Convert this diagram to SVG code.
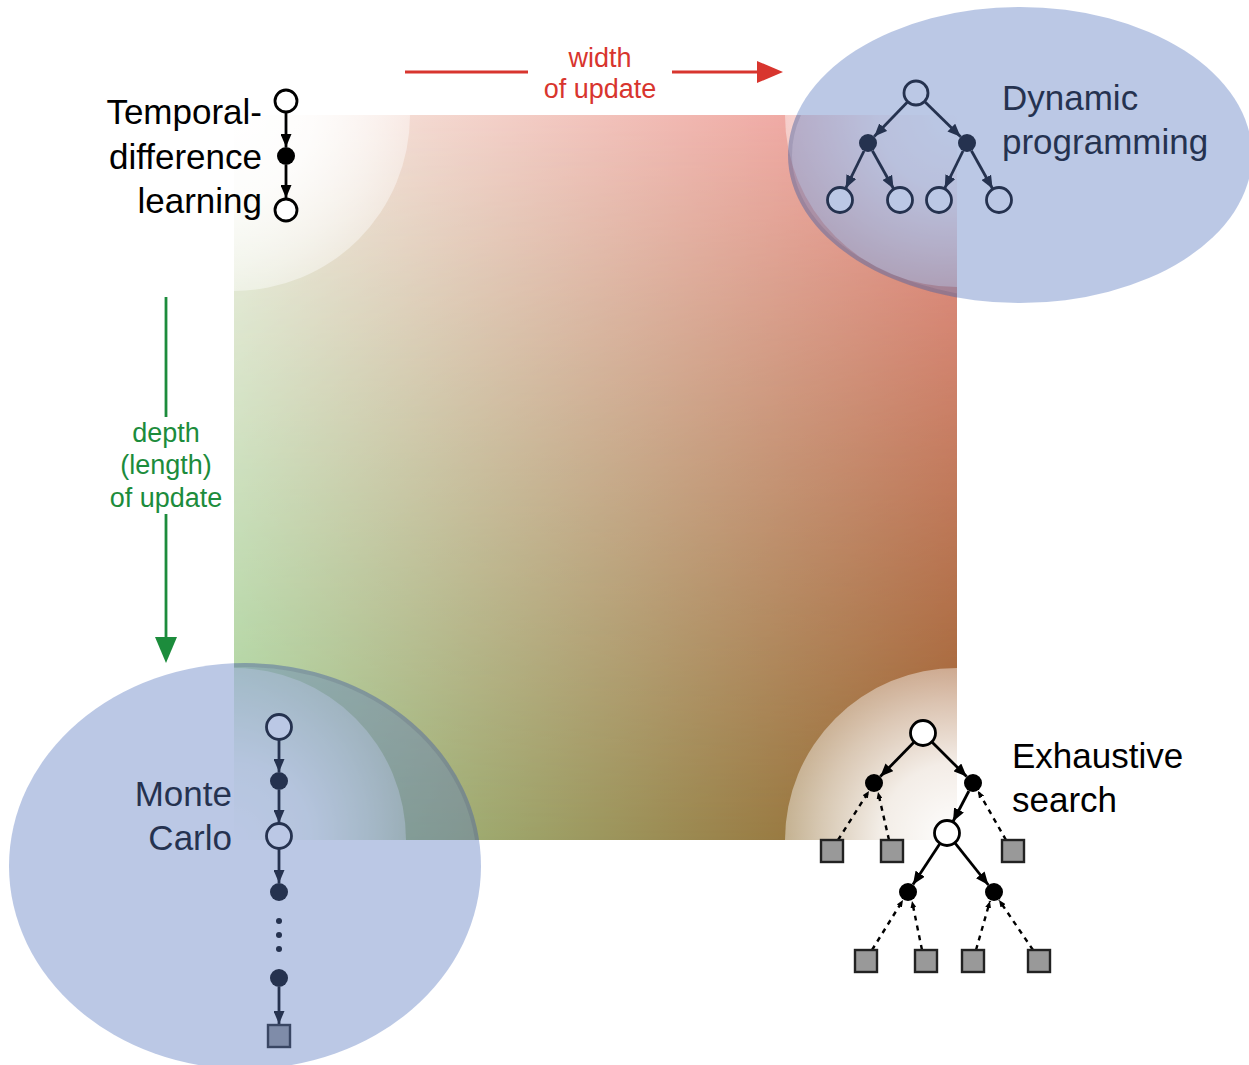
<svg xmlns="http://www.w3.org/2000/svg" width="1249" height="1065" viewBox="0 0 1249 1065">
<style>
.lbl{font-family:"Liberation Sans",Arial,sans-serif;font-size:35px;fill:#000}
.ax{font-family:"Liberation Sans",Arial,sans-serif;font-size:27px;text-anchor:middle}
.open{fill:#fff;stroke:#000;stroke-width:2.8}
.fill{fill:#000}
.leaf{fill:#999;stroke:#222;stroke-width:2.4}
.arr{stroke:#000;stroke-width:2.8;fill:none;marker-end:url(#ah)}
.dash{stroke:#000;stroke-width:2.4;fill:none;stroke-dasharray:5 5;marker-end:url(#ahs)}
.ov{fill:#5a7ac1;fill-opacity:0.41}
.rim{fill:none;stroke:#2a2850;stroke-opacity:0.12;stroke-width:4}
</style>
<defs>
<linearGradient id="gTop" x1="0" y1="0" x2="1" y2="0"><stop offset="0" stop-color="#f6f1e8"/><stop offset="1" stop-color="#ee9590"/></linearGradient>
<linearGradient id="gBot" x1="0" y1="0" x2="1" y2="0"><stop offset="0" stop-color="#a2cf93"/><stop offset="1" stop-color="#965f28"/></linearGradient>
<linearGradient id="gV" x1="0" y1="0" x2="0" y2="1"><stop offset="0" stop-color="#fff" stop-opacity="0"/><stop offset="1" stop-color="#fff" stop-opacity="1"/></linearGradient>
<mask id="mV" maskUnits="userSpaceOnUse" x="234" y="115" width="723" height="725"><rect x="234" y="115" width="723" height="725" fill="url(#gV)"/></mask>
<radialGradient id="glow"><stop offset="0" stop-color="#fff" stop-opacity="1"/><stop offset="0.45" stop-color="#fff" stop-opacity="0.88"/><stop offset="0.8" stop-color="#fff" stop-opacity="0.6"/><stop offset="1" stop-color="#fff" stop-opacity="0.42"/></radialGradient>
<clipPath id="sq"><rect x="234" y="115" width="723" height="725"/></clipPath>
<marker id="ah" markerUnits="userSpaceOnUse" markerWidth="13" markerHeight="11" refX="13" refY="5.5" orient="auto" viewBox="0 0 13 11"><path d="M0,0 L13,5.5 L0,11 z" fill="#000"/></marker>
<marker id="ahs" markerUnits="userSpaceOnUse" markerWidth="7" markerHeight="6" refX="7" refY="3" orient="auto" viewBox="0 0 7 6"><path d="M0,0 L7,3 L0,6 z" fill="#000"/></marker>
</defs>

<g id="background">
<rect x="234" y="115" width="723" height="725" fill="url(#gTop)"/>
<rect x="234" y="115" width="723" height="725" fill="url(#gBot)" mask="url(#mV)"/>
<g clip-path="url(#sq)">
<circle cx="234" cy="115" r="176" fill="url(#glow)"/>
<circle cx="957" cy="115" r="172" fill="url(#glow)"/>
<circle cx="234" cy="840" r="172" fill="url(#glow)"/>
<circle cx="957" cy="840" r="172" fill="url(#glow)"/>
</g>
</g>

<g id="connectors">
<g id="width-axis" stroke="#d8352e" stroke-width="2.8">
<line x1="405" y1="72" x2="528" y2="72"/>
<line x1="672" y1="72" x2="760" y2="72"/>
<polygon points="757,61 783,72 757,83" fill="#d8352e" stroke="none"/>
</g>
<g id="depth-axis" stroke="#1c8c3c" stroke-width="2.8">
<line x1="166" y1="297" x2="166" y2="417"/>
<line x1="166" y1="514" x2="166" y2="640"/>
<polygon points="155,637 177,637 166,663" fill="#1c8c3c" stroke="none"/>
</g>
<!-- TD -->
<line class="arr" x1="286" y1="112" x2="286" y2="147"/>
<line class="arr" x1="286" y1="165" x2="286" y2="198"/>
<!-- DP -->
<line class="arr" x1="907.7" y1="101.7" x2="874.2" y2="136.5"/>
<line class="arr" x1="924.6" y1="101.4" x2="960.6" y2="136.7"/>
<line class="arr" x1="864" y1="151" x2="845.7" y2="188.3"/>
<line class="arr" x1="872.4" y1="150.8" x2="893.6" y2="188.7"/>
<line class="arr" x1="963" y1="151" x2="944.7" y2="188.3"/>
<line class="arr" x1="971.4" y1="150.8" x2="992.6" y2="188.7"/>
<!-- MC -->
<line class="arr" x1="279" y1="740" x2="279" y2="772"/>
<line class="arr" x1="279" y1="790" x2="279" y2="823"/>
<line class="arr" x1="279" y1="849" x2="279" y2="883"/>
<line class="arr" x1="279" y1="987" x2="279" y2="1024"/>
<!-- ES -->
<line class="arr" x1="913.9" y1="742.3" x2="880.3" y2="776.6"/>
<line class="arr" x1="932.2" y1="742.2" x2="966.6" y2="776.6"/>
<line class="arr" x1="968.9" y1="791" x2="953" y2="821.5"/>
<line class="arr" x1="939.8" y1="843.8" x2="913" y2="884.5"/>
<line class="arr" x1="955.1" y1="843.2" x2="988.4" y2="885"/>
<line class="dash" x1="838" y1="840" x2="869" y2="791"/>
<line class="dash" x1="889" y1="840" x2="878" y2="792"/>
<line class="dash" x1="1006" y1="840" x2="978" y2="791"/>
<line class="dash" x1="872" y1="950" x2="903" y2="900"/>
<line class="dash" x1="922" y1="950" x2="912" y2="901"/>
<line class="dash" x1="976" y1="950" x2="990" y2="901"/>
<line class="dash" x1="1033" y1="950" x2="999" y2="900"/>
</g>

<g id="td">
<text class="lbl" x="262" y="124" text-anchor="end">Temporal-</text>
<text class="lbl" x="262" y="169" text-anchor="end">difference</text>
<text class="lbl" x="262" y="213" text-anchor="end">learning</text>
<circle id="td-s0" class="open" cx="286" cy="101" r="11"/>
<circle id="td-a0" class="fill" cx="286" cy="156" r="9"/>
<circle id="td-s1" class="open" cx="286" cy="210" r="11"/>
</g>

<g id="dp">
<text class="lbl" x="1002" y="110">Dynamic</text>
<text class="lbl" x="1002" y="154">programming</text>
<circle id="dp-root" class="open" cx="916" cy="93" r="12"/>
<circle id="dp-a1" class="fill" cx="868" cy="143" r="9"/>
<circle id="dp-a2" class="fill" cx="967" cy="143" r="9"/>
<circle id="dp-l1" class="open" cx="840" cy="200" r="12.5"/>
<circle id="dp-l2" class="open" cx="900" cy="200" r="12.5"/>
<circle id="dp-l3" class="open" cx="939" cy="200" r="12.5"/>
<circle id="dp-l4" class="open" cx="999" cy="200" r="12.5"/>
</g>

<g id="mc">
<text class="lbl" x="232" y="806" text-anchor="end">Monte</text>
<text class="lbl" x="232" y="850" text-anchor="end">Carlo</text>
<circle id="mc-s0" class="open" cx="279" cy="727" r="12.5"/>
<circle id="mc-a0" class="fill" cx="279" cy="781" r="9"/>
<circle id="mc-s1" class="open" cx="279" cy="836" r="12.5"/>
<circle id="mc-a1" class="fill" cx="279" cy="892" r="9"/>
<circle class="fill" cx="279" cy="921" r="3"/>
<circle class="fill" cx="279" cy="935" r="3"/>
<circle class="fill" cx="279" cy="949" r="3"/>
<circle id="mc-an" class="fill" cx="279" cy="978" r="9"/>
<rect id="mc-term" class="leaf" x="268" y="1025" width="22" height="22"/>
</g>

<g id="es">
<text class="lbl" x="1012" y="768">Exhaustive</text>
<text class="lbl" x="1012" y="812">search</text>
<circle id="es-root" class="open" cx="923" cy="733" r="12.5"/>
<circle id="es-a1" class="fill" cx="874" cy="783" r="9"/>
<circle id="es-a2" class="fill" cx="973" cy="783" r="9"/>
<circle id="es-s1" class="open" cx="947" cy="833" r="12.5"/>
<circle id="es-a3" class="fill" cx="908" cy="892" r="9"/>
<circle id="es-a4" class="fill" cx="994" cy="892" r="9"/>
<rect class="leaf" x="821" y="840" width="22" height="22"/>
<rect class="leaf" x="881" y="840" width="22" height="22"/>
<rect class="leaf" x="1002" y="840" width="22" height="22"/>
<rect class="leaf" x="855" y="950" width="22" height="22"/>
<rect class="leaf" x="915" y="950" width="22" height="22"/>
<rect class="leaf" x="962" y="950" width="22" height="22"/>
<rect class="leaf" x="1028" y="950" width="22" height="22"/>
</g>

<g id="axis-labels">
<text class="ax" x="600" y="67" fill="#d8352e">width</text>
<text class="ax" x="600" y="98" fill="#d8352e">of update</text>
<text class="ax" x="166" y="442" fill="#1c8c3c">depth</text>
<text class="ax" x="166" y="474" fill="#1c8c3c">(length)</text>
<text class="ax" x="166" y="507" fill="#1c8c3c">of update</text>
</g>

<g id="overlays">
<ellipse class="ov" cx="1020" cy="155" rx="232" ry="148"/>
<ellipse class="ov" cx="245" cy="866" rx="236" ry="203"/>
<g clip-path="url(#sq)">
<ellipse class="rim" cx="1020" cy="155" rx="230" ry="146"/>
<ellipse class="rim" cx="245" cy="866" rx="234" ry="201"/>
</g>
</g>
</svg>
